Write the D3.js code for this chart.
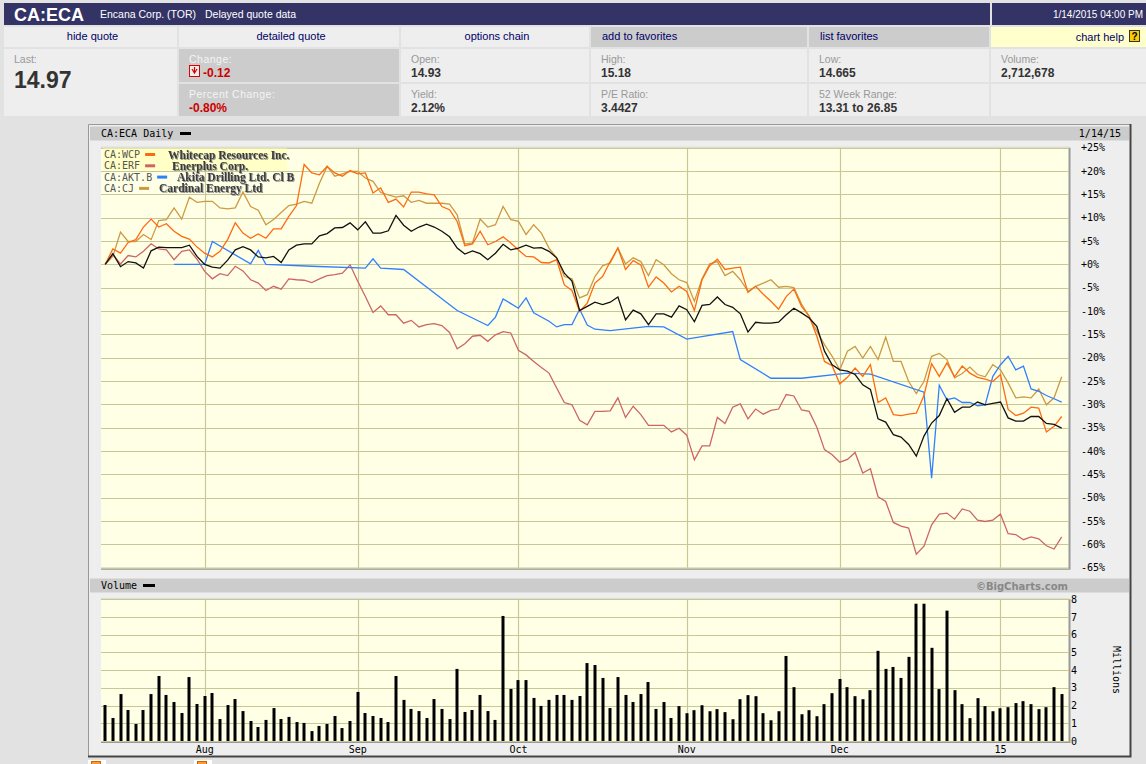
<!DOCTYPE html>
<html>
<head>
<meta charset="utf-8">
<script src="https://cdn.jsdelivr.net/npm/d3@7"></script>
<style>
  html, body { margin: 0; padding: 0; background: #e2e2e2; }
  svg { display: block; }
  .mono { font-family: "DejaVu Sans Mono", monospace; font-size: 10px; }
  .hdr { font-family: "Liberation Sans", Arial, sans-serif; }
</style>
</head>
<body>
<div id="chart"></div>
<script>
// x axis: trading days, Jul 15 2014 .. Jan 14 2015 (126 sessions)
var monthLabels = ["Aug", "Sep", "Oct", "Nov", "Dec", "15"];
var monthStartIdx = [13, 33, 54, 76, 96, 117];

var pctTicks = [25, 20, 15, 10, 5, 0, -5, -10, -15, -20, -25, -30, -35, -40, -45, -50, -55, -60, -65];
var volTicks = [0, 1, 2, 3, 4, 5, 6, 7, 8];

// % change since first session
var eca = [0, 2.3, -0.5, 0.6, 0.3, -0.8, 2.9, 3.7, 3.6, 3.6, 3.6, 4.1, 1.7, 0.0, -0.6, -0.8, 0.9, 3.1, 3.8, 3.1,
  1.6, 1.4, 1.7, 0.4, 3.1, 4.1, 4.4, 4.4, 6.1, 6.6, 7.8, 7.9, 8.9, 7.4, 9.1, 6.7, 6.7, 7.2, 10.5, 8.4,
  7.1, 8.0, 8.6, 8.0, 7.1, 5.9, 3.5, 2.2, 2.9, 2.3, 1.0, 2.4, 4.3, 3.1, 3.5, 4.1, 3.5, 3.6, 2.8, 1.4,
  -1.9, -3.6, -9.9, -9.0, -8.1, -8.6, -8.1, -7.0, -11.9, -9.8, -10.6, -12.9, -10.6, -10.6, -11.3, -8.9, -9.7, -12.3, -8.8, -8.6,
  -7.0, -8.6, -9.2, -10.6, -14.5, -12.4, -12.6, -12.6, -12.4, -10.8, -9.4, -10.4, -11.5, -13.3, -18.6, -21.5, -22.6, -22.9, -23.6, -25.8,
  -26.8, -33.1, -33.8, -36.5, -37.0, -38.6, -41.1, -36.8, -34.0, -32.4, -28.8, -31.7, -30.6, -30.6, -29.5, -30.1, -29.8, -29.5, -32.9, -33.6,
  -33.6, -32.6, -32.6, -34.1, -34.3, -35.1];

var wcp = [0, 3.3, 2.4, 4.7, 5.3, 8.0, 9.7, 8.0, 8.7, 7.1, 6.0, 5.4, 3.7, 2.4, 1.6, 2.8, 5.3, 8.9, 6.7, 5.6,
  6.5, 5.6, 7.6, 7.6, 10.3, 12.6, 21.4, 19.6, 19.2, 21.0, 19.6, 18.9, 20.1, 19.4, 19.6, 15.3, 16.4, 13.3, 14.0, 12.3,
  15.5, 15.5, 15.1, 14.9, 12.4, 11.7, 9.2, 4.0, 4.4, 7.1, 4.2, 4.9, 5.9, 4.6, 3.1, 1.7, 1.6, 0.4, 0.3, 1.0,
  -4.4, -5.6, -10.1, -8.3, -4.0, -2.6, 0.6, 3.5, -1.1, 0.8, -0.1, -4.9, -2.7, -4.0, -5.9, -4.7, -5.8, -9.9, -3.3, -0.3,
  1.1, -1.1, -0.8, -0.6, -6.0, -4.7, -6.4, -7.9, -9.6, -6.9, -5.3, -9.0, -11.1, -15.4, -20.8, -21.7, -25.6, -24.2, -22.2, -24.0,
  -21.5, -29.6, -28.6, -32.2, -32.4, -32.1, -31.9, -28.1, -21.3, -24.0, -21.1, -24.1, -21.8, -23.3, -24.2, -24.6, -25.1, -23.6, -31.1, -32.4,
  -31.9, -30.6, -30.8, -35.9, -34.7, -32.6];

var erf = [0, 2.1, 0.1, 1.9, 1.6, 2.8, 4.4, 3.3, 3.1, 1.0, 2.8, 3.1, 1.1, -1.5, -3.1, -2.0, -2.4, -0.4, -1.4, -3.3,
  -4.0, -5.6, -4.7, -5.3, -3.1, -3.3, -3.4, -3.9, -3.1, -2.4, -2.2, -1.9, -0.1, -3.6, -6.9, -10.3, -8.9, -10.8, -10.8, -12.6,
  -12.0, -13.4, -12.9, -12.7, -13.1, -14.6, -18.1, -17.0, -15.4, -15.2, -16.5, -15.1, -14.4, -14.7, -18.4, -19.4, -20.8, -22.1, -23.3, -26.5,
  -29.6, -30.1, -33.4, -34.4, -31.5, -31.5, -31.4, -28.6, -32.8, -30.4, -32.2, -34.5, -34.5, -34.5, -35.9, -35.1, -36.6, -41.9, -38.9, -38.9,
  -32.8, -34.1, -30.6, -29.9, -33.1, -31.0, -32.1, -31.3, -31.0, -27.9, -28.2, -31.2, -31.5, -34.9, -39.7, -40.8, -42.4, -41.8, -40.3, -44.7,
  -43.8, -49.8, -50.8, -55.3, -56.1, -56.5, -62.1, -60.4, -55.8, -53.5, -53.3, -54.6, -52.4, -52.9, -54.8, -55.1, -54.8, -53.5, -57.7, -57.9,
  -59.0, -58.4, -58.8, -60.3, -61.0, -58.4];

// thinly traded: null where there was no trade
var aktb = [null, null, null, null, null, null, null, null, null, 0, null, null, null, 0, 4.9, null, null, null, null, 0.1,
  3.0, 0, null, null, null, null, null, -0.4, null, null, null, null, null, null, -0.8, 1.2, -0.8, null, null, -1.1,
  null, null, null, null, null, null, -9.9, null, null, null, -13.1, -11.3, -7.4, null, -9.4, -7.2, -10.4, null, -12.2, -13.4,
  -12.9, -12.9, -9.6, -13.0, -13.9, null, -14.2, null, null, null, null, -13.3, null, -13.4, null, null, -16.0, null, null, null,
  null, null, -14.4, -20.4, null, null, null, -24.4, null, null, null, -24.4, null, null, null, null, null, -23.3, null, null,
  -23.5, null, null, null, null, null, null, -27.4, -45.8, -25.9, -29.0, -28.6, -29.6, -29.6, -30.3, -30.1, -24.0, -21.5, -19.7, -22.6,
  -21.8, -26.7, -27.2, -28.1, -28.8, -29.5];

var cj = [0, 1.7, 6.9, 4.9, 4.9, 6.4, 5.3, 9.4, 9.6, 12.1, 9.7, 14.4, 13.3, 13.5, 13.5, 12.1, 11.9, 12.1, 15.5, 12.4,
  11.6, 8.5, 9.6, 11.1, 12.6, 12.9, 13.5, 13.1, 17.4, 21.0, 18.9, 19.4, 19.9, 19.9, 18.5, 17.8, 15.4, 14.9, 14.4, 14.7,
  13.3, 13.7, 13.1, 13.1, 13.1, 12.9, 10.6, 4.4, 4.6, 9.7, 8.0, 8.5, 12.4, 9.6, 9.2, 6.4, 8.5, 6.7, 3.5, 1.4,
  -2.6, -3.1, -7.2, -6.5, -2.6, -0.3, 0.3, 3.5, 0.1, 1.4, 0.6, -2.4, 1.0, -0.1, -2.0, -3.3, -3.9, -7.9, -3.1, 0.1,
  0.6, -2.4, -1.5, -3.3, -5.8, -4.7, -4.0, -3.3, -4.9, -4.7, -5.0, -8.5, -11.2, -14.3, -17.2, -19.7, -22.6, -18.6, -17.6, -20.1,
  -17.6, -20.4, -15.6, -20.8, -20.8, -25.1, -27.7, -25.1, -19.7, -19.1, -20.4, -24.3, -23.4, -22.0, -23.6, -24.1, -21.5, -22.6, -25.4, -28.6,
  -28.4, -28.6, -26.7, -30.1, -28.6, -24.1];

// CA:ECA volume, millions of shares
var volume = [2.03, 1.30, 2.65, 1.75, 0.96, 1.75, 2.65, 3.67, 2.60, 2.20, 1.58, 3.61, 2.09, 2.54, 2.71, 1.24, 2.03, 2.37, 1.69, 1.13,
  0.79, 1.19, 1.86, 1.24, 1.36, 1.07, 1.02, 0.56, 0.85, 0.96, 1.41, 0.73, 1.13, 2.77, 1.58, 1.41, 1.30, 1.07, 3.67, 2.32,
  1.81, 1.69, 1.30, 2.37, 1.81, 1.24, 4.07, 1.64, 1.75, 2.60, 1.69, 1.19, 7.06, 2.94, 3.44, 3.44, 2.43, 1.98, 2.32, 2.60,
  2.60, 2.32, 2.54, 4.40, 4.29, 3.56, 1.86, 3.61, 2.60, 2.20, 2.65, 3.33, 1.81, 2.20, 1.30, 1.97, 1.57, 1.74, 2.02, 1.68,
  1.80, 1.63, 1.23, 2.36, 2.59, 2.53, 1.57, 1.17, 1.68, 4.80, 3.04, 1.51, 1.74, 1.40, 2.08, 2.70, 3.50, 3.04, 2.53, 2.36,
  2.87, 5.09, 4.07, 4.18, 3.56, 4.75, 7.75, 7.75, 5.26, 2.93, 7.36, 2.87, 2.08, 1.29, 2.42, 1.97, 1.68, 1.85, 1.91, 2.14,
  2.25, 2.08, 1.80, 1.91, 3.04, 2.65];

var legendSymbols = ["CA:WCP", "CA:ERF", "CA:AKT.B", "CA:CJ"];
var legendNames = ["Whitecap Resources Inc.", "Enerplus Corp.", "Akita Drilling Ltd. Cl B", "Cardinal Energy Ltd"];
var legendColors = ["#ff6a10", "#cc6666", "#2f80ff", "#cc9a44"];
var legendNameX = [168, 172, 177, 159];

document.addEventListener("DOMContentLoaded", function() {

    var W = 1146, H = 764;
    var svg = d3.select("#chart").append("svg").attr("width", W).attr("height", H);

    // ---------- quote header ----------
    svg.append("rect").attr("x", 4).attr("y", 3).attr("width", W - 4).attr("height", 22).attr("fill", "#333366");
    svg.append("rect").attr("x", 990).attr("y", 3).attr("width", 2).attr("height", 22).attr("fill", "#e2e2e2");
    svg.append("text").attr("class", "hdr").attr("x", 14).attr("y", 21).attr("fill", "#fff")
       .attr("font-weight", "bold").attr("font-size", 18).text("CA:ECA");
    svg.append("text").attr("class", "hdr").attr("x", 100).attr("y", 18).attr("fill", "#fff")
       .attr("font-size", 10.5).text("Encana Corp. (TOR)");
    svg.append("text").attr("class", "hdr").attr("x", 205).attr("y", 18).attr("fill", "#fff")
       .attr("font-size", 10.5).text("Delayed quote data");
    // the original is clipped at the window edge; keep it whole here
    svg.append("text").attr("class", "hdr").attr("x", 1143).attr("y", 18).attr("text-anchor", "end")
       .attr("fill", "#fff").attr("font-size", 10).text("1/14/2015 04:00 PM");

    var cols = [[4, 177], [179, 399], [401, 589], [591, 807], [809, 989], [991, 1146]];
    var navLabels = ["hide quote", "detailed quote", "options chain", "add to favorites", "list favorites", "chart help"];
    var navFill = ["#eeeeee", "#eeeeee", "#eeeeee", "#cccccc", "#cccccc", "#ffffcc"];
    cols.forEach(function(c, i) {
        svg.append("rect").attr("x", c[0]).attr("y", 27).attr("width", c[1] - c[0]).attr("height", 20).attr("fill", navFill[i]);
        var t = svg.append("text").attr("class", "hdr").attr("y", 40).attr("font-size", 11)
           .attr("fill", "#000066").text(navLabels[i]);
        if (i < 3) t.attr("x", (c[0] + c[1]) / 2 + 2).attr("text-anchor", "middle");
        else if (i < 5) t.attr("x", c[0] + 11);
        else t.attr("x", 1124).attr("y", 41).attr("text-anchor", "end");
    });
    // help icon
    svg.append("rect").attr("x", 1129.5).attr("y", 30.5).attr("width", 10).attr("height", 11)
       .attr("fill", "#ffcc00").attr("stroke", "#333").attr("stroke-width", 1);
    svg.append("text").attr("class", "hdr").attr("x", 1134.5).attr("y", 40).attr("text-anchor", "middle")
       .attr("font-size", 10).attr("font-weight", "bold").attr("fill", "#000").text("?");

    // quote cells
    svg.append("rect").attr("x", 4).attr("y", 49).attr("width", 173).attr("height", 67).attr("fill", "#eeeeee");
    svg.append("text").attr("class", "hdr").attr("x", 14).attr("y", 63).attr("font-size", 10.5).attr("fill", "#999").text("Last:");
    svg.append("text").attr("class", "hdr").attr("x", 14).attr("y", 88).attr("font-size", 23)
       .attr("font-weight", "bold").attr("fill", "#333").text("14.97");

    var quoteRows = [
        [["Change:", "-0.12"], ["Open:", "14.93"], ["High:", "15.18"], ["Low:", "14.665"], ["Volume:", "2,712,678"]],
        [["Percent Change:", "-0.80%"], ["Yield:", "2.12%"], ["P/E Ratio:", "3.4427"], ["52 Week Range:", "13.31 to 26.85"], ["", ""]]
    ];
    quoteRows.forEach(function(row, r) {
        var y0 = r === 0 ? 49 : 84;
        row.forEach(function(cell, k) {
            var c = cols[k + 1];
            var isChg = k === 0;
            svg.append("rect").attr("x", c[0]).attr("y", y0).attr("width", c[1] - c[0]).attr("height", r === 0 ? 33 : 32)
               .attr("fill", isChg ? "#cccccc" : "#eeeeee");
            svg.append("text").attr("class", "hdr").attr("x", c[0] + 10).attr("y", y0 + 14).attr("font-size", 10.5)
               .attr("letter-spacing", isChg ? 0.5 : 0)
               .attr("fill", isChg ? "#f4f4f4" : "#999").text(cell[0]);
            svg.append("text").attr("class", "hdr").attr("x", c[0] + 10 + (isChg && r === 0 ? 14 : 0)).attr("y", y0 + 28)
               .attr("font-size", 12).attr("font-weight", "bold")
               .attr("fill", isChg ? "#cc0000" : "#333").text(cell[1]);
        });
    });
    // down arrow icon by the change value
    svg.append("rect").attr("x", 189.5).attr("y", 65.5).attr("width", 10).attr("height", 11)
       .attr("fill", "#eee").attr("stroke", "#dd0000").attr("stroke-width", 1);
    svg.append("path").attr("d", "M192,69 L194.5,73 L197,69 M194.5,67 L194.5,73")
       .attr("fill", "none").attr("stroke", "#dd0000").attr("stroke-width", 1.2);

    // ---------- chart frame ----------
    svg.append("rect").attr("x", 88).attr("y", 124).attr("width", 1043).attr("height", 633).attr("fill", "#eeeeee");
    svg.append("path").attr("d", "M88.5,757 L88.5,124.5 L1131,124.5").attr("fill", "none").attr("stroke", "#999");
    svg.append("path").attr("d", "M1130.5,124 L1130.5,756.5 L88,756.5").attr("fill", "none").attr("stroke", "#444").attr("stroke-width", 2);

    // title bars
    svg.append("rect").attr("x", 90).attr("y", 126.5).attr("width", 1039).attr("height", 14).attr("fill", "#cccccc");
    svg.append("text").attr("class", "mono").attr("x", 101).attr("y", 137).attr("fill", "#000").text("CA:ECA Daily");
    svg.append("rect").attr("x", 180).attr("y", 132).attr("width", 11).attr("height", 3).attr("fill", "#000");
    svg.append("text").attr("class", "mono").attr("x", 1121).attr("y", 137).attr("text-anchor", "end").attr("fill", "#000").text("1/14/15");

    svg.append("rect").attr("x", 90).attr("y", 578.5).attr("width", 1039).attr("height", 14).attr("fill", "#cccccc");
    svg.append("text").attr("class", "mono").attr("x", 101).attr("y", 589).attr("fill", "#000").text("Volume");
    svg.append("rect").attr("x", 143).attr("y", 584).attr("width", 12).attr("height", 3).attr("fill", "#000");
    svg.append("text").attr("x", 1068).attr("y", 589.5).attr("text-anchor", "end")
       .attr("font-family", "'DejaVu Sans', Verdana, sans-serif").attr("font-size", 10).attr("font-weight", "bold")
       .attr("fill", "#888").text("\u00a9BigCharts.com");

    // ---------- scales ----------
    var plotL = 101, plotR = 1069;
    var x = d3.scaleLinear().domain([0, volume.length - 1]).range([105.2, 1061.7]);
    var y = d3.scaleLinear().domain([-65, 25]).range([567.7, 147.7]);
    var yv = d3.scaleLinear().domain([0, 8]).range([741, 599.3]);

    function panel(top, bottom) {
        svg.append("rect").attr("x", plotL).attr("y", top).attr("width", plotR - plotL).attr("height", bottom - top)
           .attr("fill", "#ffffe6");
        svg.append("path").attr("d", "M" + plotL + "," + (top - 0.5) + " L" + plotR + "," + (top - 0.5))
           .attr("stroke", "#d6d6c8").attr("stroke-width", 1);
        svg.append("path").attr("d", "M" + (plotR + 0.5) + "," + top + " L" + (plotR + 0.5) + "," + (bottom + 1) + " L" + plotL + "," + (bottom + 1))
           .attr("fill", "none").attr("stroke", "#999").attr("stroke-width", 2);
    }
    panel(147.7, 567.7);
    panel(599.3, 741);

    var grid = "#c8c896";
    // horizontal grid, price panel
    svg.append("g").selectAll("line").data(pctTicks).enter().append("line")
       .attr("x1", plotL).attr("x2", plotR).attr("y1", d => Math.round(y(d)) + 0.5).attr("y2", d => Math.round(y(d)) + 0.5)
       .attr("stroke", grid).attr("stroke-width", 1.2);
    // horizontal grid, volume panel
    svg.append("g").selectAll("line").data(volTicks).enter().append("line")
       .attr("x1", plotL).attr("x2", plotR).attr("y1", d => Math.round(yv(d)) + 0.5).attr("y2", d => Math.round(yv(d)) + 0.5)
       .attr("stroke", grid).attr("stroke-width", 1.2);
    // month grid in both panels
    [[147.7, 567.7], [599.3, 741]].forEach(function(p) {
        svg.append("g").selectAll("line").data(monthStartIdx).enter().append("line")
           .attr("x1", d => Math.round(x(d)) + 0.5).attr("x2", d => Math.round(x(d)) + 0.5)
           .attr("y1", p[0]).attr("y2", p[1])
           .attr("stroke", grid).attr("stroke-width", 1.2);
    });

    // y labels
    svg.append("g").selectAll("text").data(pctTicks).enter().append("text")
       .attr("class", "mono").attr("x", 1081).attr("y", d => y(d) + 3.5).attr("fill", "#000")
       .text(d => (d >= 0 ? "+" : "") + d + "%");
    svg.append("g").selectAll("text").data(volTicks).enter().append("text")
       .attr("class", "mono").attr("x", 1071).attr("y", d => yv(d) + 3.5).attr("fill", "#000")
       .text(d => d);
    svg.append("text").attr("class", "mono").attr("transform", "translate(1113,670) rotate(90)")
       .attr("text-anchor", "middle").attr("fill", "#000").text("Millions");

    // month labels
    svg.append("g").selectAll("text").data(monthStartIdx).enter().append("text")
       .attr("class", "mono").attr("x", d => x(d)).attr("y", 753).attr("text-anchor", "middle").attr("fill", "#000")
       .text((d, i) => monthLabels[i]);

    // ---------- volume bars ----------
    svg.append("g").selectAll("rect").data(volume).enter().append("rect")
       .attr("x", (d, i) => Math.round(x(i)) - 1.5)
       .attr("y", d => yv(d))
       .attr("width", 3)
       .attr("height", d => yv(0) - yv(d))
       .attr("fill", "#000");

    // ---------- price lines ----------
    var line = d3.line().x(d => x(d[0])).y(d => y(d[1]));
    function pts(arr) {
        return arr.map((v, i) => [i, v]).filter(d => d[1] !== null);
    }
    var series = [
        { data: cj, color: legendColors[3] },
        { data: erf, color: legendColors[1] },
        { data: aktb, color: legendColors[2] },
        { data: wcp, color: legendColors[0] },
        { data: eca, color: "#111" }
    ];
    series.forEach(function(s) {
        svg.append("path").datum(pts(s.data)).attr("d", line)
           .attr("fill", "none").attr("stroke", s.color).attr("stroke-width", 1.3)
           .attr("stroke-linejoin", "miter");
    });

    // ---------- legend ----------
    svg.append("rect").attr("x", 103).attr("y", 148.5).attr("width", 184).attr("height", 22).attr("fill", "#ffffc6");
    var shadow = svg.append("defs").append("filter").attr("id", "sh").attr("x", "-5%").attr("y", "-20%")
       .attr("width", "115%").attr("height", "150%");
    shadow.append("feDropShadow").attr("dx", 1).attr("dy", 1).attr("stdDeviation", 0.6)
       .attr("flood-color", "#888").attr("flood-opacity", 0.9);
    legendSymbols.forEach(function(sym, i) {
        var ly = 158 + i * 11.3;
        svg.append("text").attr("class", "mono").attr("x", 104).attr("y", ly).attr("fill", "#555").text(sym);
        var sw = 104 + sym.length * 6.02 + 5;
        svg.append("rect").attr("x", sw).attr("y", ly - 5).attr("width", 10).attr("height", 3).attr("fill", legendColors[i]);
        svg.append("text").attr("x", legendNameX[i]).attr("y", ly + 0.5)
           .attr("font-family", "'Liberation Serif', 'Times New Roman', serif").attr("font-size", 11.5)
           .attr("font-weight", "bold").attr("fill", "#3a3a3a").attr("filter", "url(#sh)")
           .text(legendNames[i]);
    });

    // icons peeking below the frame
    [90, 196].forEach(function(ix) {
        svg.append("rect").attr("x", ix - 2).attr("y", 760).attr("width", 18).attr("height", 8).attr("fill", "#fff");
        svg.append("rect").attr("x", ix + 1.5).attr("y", 761.5).attr("width", 9).attr("height", 8)
           .attr("fill", "#ff9933").attr("stroke", "#cc6600");
    });
});
</script>
</body>
</html>
